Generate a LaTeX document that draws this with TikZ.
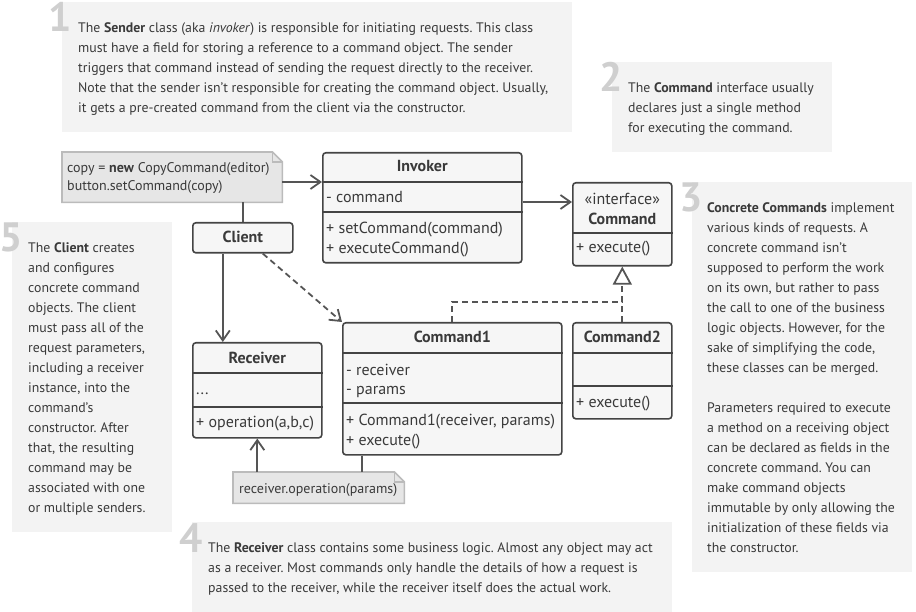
\documentclass[tikz,border=0pt]{standalone}
\usepackage{fontspec}
\setmainfont{PT Sans}
\usetikzlibrary{arrows.meta}
\definecolor{ink}{HTML}{3A3A3A}
\definecolor{numgray}{HTML}{CFCFCF}
\definecolor{notefill}{HTML}{F3F3F3}
\definecolor{umlfill}{HTML}{F6F6F6}
\definecolor{umlborder}{HTML}{444444}
\definecolor{codefill}{HTML}{E6E6E6}
\definecolor{codeborder}{HTML}{BBBBBB}
\definecolor{linkgray}{HTML}{555555}
\frenchspacing
\begin{document}
\begin{tikzpicture}[x=1pt,y=-1pt,
    notebox/.style={fill=notefill, inner sep=0pt, anchor=north west},
    notenum/.style={text=numgray, font=\fontsize{41}{41}\selectfont\bfseries, anchor=base east, inner sep=0pt},
    notetext/.style={text=ink, font=\fontsize{13.8}{20}\selectfont, align=left, anchor=north west, inner sep=0pt},
    umlbox/.style={draw=umlborder, fill=umlfill, line width=1.6pt, rounded corners=3pt, inner sep=0pt, anchor=north west},
    umlline/.style={draw=umlborder, line width=1.6pt},
    umlhead/.style={text=ink, font=\fontsize{16}{20}\selectfont\bfseries, anchor=base, inner sep=0pt},
    umltag/.style={text=ink, font=\fontsize{16}{20}\selectfont, anchor=base, inner sep=0pt},
    umlitem/.style={text=ink, font=\fontsize{16}{20}\selectfont, anchor=base west, inner sep=0pt},
    codebox/.style={inner sep=0pt, anchor=north west},
    codeline/.style={draw=codeborder, fill=codefill, line width=1.6pt},
    codetext/.style={text=ink, font=\fontsize{14}{17}\selectfont, anchor=base west, inner sep=0pt},
    link/.style={draw=linkgray, line width=1.8pt},
    assoc/.style={link, -{Straight Barb[length=10pt,width=14pt]}},
    depend/.style={assoc, dash pattern=on 6pt off 4pt},
    realize/.style={link, dash pattern=on 6pt off 4pt, -{Triangle[open,length=18pt,width=19pt,fill=white]}}]
  \useasboundingbox (0,0) rectangle (916,612);

  \node[notebox, minimum width=510pt, minimum height=130pt] (note1) at (62,2) {};
  \node[notebox, minimum width=220pt, minimum height=90pt] (note2) at (612,62) {};
  \node[notebox, minimum width=220pt, minimum height=390pt] (note3) at (692,182) {};
  \node[notebox, minimum width=480pt, minimum height=90pt] (note4) at (192,522) {};
  \node[notebox, minimum width=160pt, minimum height=310pt] (note5) at (12,222) {};

  \node[notenum] (num1) at (72,32) {1};
  \node[notenum] (num2) at (623,92) {2};
  \node[notenum] (num3) at (703,212) {3};
  \node[notenum] (num4) at (203,552) {4};
  \node[notenum] (num5) at (23,252) {5};

  \node[notetext] (text1) at (78,18) {\strut The \textbf{Sender} class (aka \textit{invoker}) is responsible for initiating requests. This class\\
    must have a field for storing a reference to a command object. The sender\\
    triggers that command instead of sending the request directly to the receiver.\\
    Note that the sender isn’t responsible for creating the command object. Usually,\\
    it gets a pre-created command from the client via the constructor.};
  \node[notetext] (text2) at (628,78) {\strut The \textbf{Command} interface usually\\
    declares just a single method\\
    for executing the command.};
  \node[notetext] (text3) at (707,198) {\strut\textbf{Concrete Commands} implement\\
    various kinds of requests. A\\
    concrete command isn’t\\
    supposed to perform the work\\
    on its own, but rather to pass\\
    the call to one of the business\\
    logic objects. However, for the\\
    sake of simplifying the code,\\
    these classes can be merged.\\[20pt]
    Parameters required to execute\\
    a method on a receiving object\\
    can be declared as fields in the\\
    concrete command. You can\\
    make command objects\\
    immutable by only allowing the\\
    initialization of these fields via\\
    the constructor.};
  \node[notetext] (text4) at (208,538) {\strut The \textbf{Receiver} class contains some business logic. Almost any object may act\\
    as a receiver. Most commands only handle the details of how a request is\\
    passed to the receiver, while the receiver itself does the actual work.};
  \node[notetext] (text5) at (28,238) {\strut The \textbf{Client} creates\\
    and configures\\
    concrete command\\
    objects. The client\\
    must pass all of the\\
    request parameters,\\
    including a receiver\\
    instance, into the\\
    command’s\\
    constructor. After\\
    that, the resulting\\
    command may be\\
    associated with one\\
    or multiple senders.};

  \node[codebox, minimum width=220pt, minimum height=50pt] (clientcode) at (62,152) {};
  \draw[codeline] (clientcode.north west) -- ([xshift=-10pt]clientcode.north east) -- ([yshift=-10pt]clientcode.north east) -- (clientcode.south east) -- (clientcode.south west) -- cycle;
  \draw[codeline, fill=none] ([xshift=-10pt]clientcode.north east) |- ([yshift=-10pt]clientcode.north east);
  \node[codetext] at (67,173) {copy = \textbf{new} CopyCommand(editor)};
  \node[codetext] at (67,191) {button.setCommand(copy)};

  \node[codebox, minimum width=171pt, minimum height=31pt] (recvcode) at (233,472) {};
  \draw[codeline] (recvcode.north west) -- ([xshift=-10pt]recvcode.north east) -- ([yshift=-10pt]recvcode.north east) -- (recvcode.south east) -- (recvcode.south west) -- cycle;
  \draw[codeline, fill=none] ([xshift=-10pt]recvcode.north east) |- ([yshift=-10pt]recvcode.north east);
  \node[codetext] at (239,493) {receiver.operation(params)};

  \node[umlbox, minimum width=199pt, minimum height=110pt] (invoker) at (322,152) {};
  \draw[umlline] (invoker.west |- 0,182) -- (invoker.east |- 0,182);
  \draw[umlline] (invoker.west |- 0,212) -- (invoker.east |- 0,212);
  \node[umlhead] at (invoker.center |- 0,172) {Invoker};
  \node[umlitem] at (326,203) {- command};
  \node[umlitem] at (326,234) {+ setCommand(command)};
  \node[umlitem] at (326,254) {+ executeCommand()};

  \node[umlbox, minimum width=99pt, minimum height=83pt] (command) at (572,182) {};
  \draw[umlline] (command.west |- 0,233) -- (command.east |- 0,233);
  \node[umltag] at (command.center |- 0,205) {«interface»};
  \node[umlhead] at (command.center |- 0,225) {Command};
  \node[umlitem] at (576,253) {+ execute()};

  \node[umlbox, minimum width=100pt, minimum height=30pt] (client) at (192,222) {};
  \node[umlhead] at (client.center |- 0,243) {Client};

  \node[umlbox, minimum width=129pt, minimum height=95pt] (receiver) at (192,342) {};
  \draw[umlline] (receiver.west |- 0,373) -- (receiver.east |- 0,373);
  \draw[umlline] (receiver.west |- 0,407) -- (receiver.east |- 0,407);
  \node[umlhead] at (receiver.center |- 0,363) {Receiver};
  \node[umlitem] at (196,395) {...};
  \node[umlitem] at (196,428) {+ operation(a,b,c)};

  \node[umlbox, minimum width=219pt, minimum height=132pt] (command1) at (342,322) {};
  \draw[umlline] (command1.west |- 0,353) -- (command1.east |- 0,353);
  \draw[umlline] (command1.west |- 0,403) -- (command1.east |- 0,403);
  \node[umlhead] at (command1.center |- 0,343) {Command1};
  \node[umlitem] at (346,375) {- receiver};
  \node[umlitem] at (346,395) {- params};
  \node[umlitem] at (346,425) {+ Command1(receiver, params)};
  \node[umlitem] at (346,445) {+ execute()};

  \node[umlbox, minimum width=99pt, minimum height=96pt] (command2) at (572,322) {};
  \draw[umlline] (command2.west |- 0,353) -- (command2.east |- 0,353);
  \draw[umlline] (command2.west |- 0,386) -- (command2.east |- 0,386);
  \node[umlhead] at (command2.center |- 0,343) {Command2};
  \node[umlitem] at (576,407) {+ execute()};

  \draw[assoc] (clientcode.east |- 0,182) -- (invoker.west |- 0,182);
  \draw[link] (client.north) -- (client.north |- clientcode.south);
  \draw[assoc] ([xshift=-20pt]client.south) -- ([xshift=-20pt]client.south |- receiver.north);
  \draw[depend] ([xshift=20pt]client.south) -- (command1.north west);
  \draw[assoc] (invoker.east |- 0,202) -- (command.west |- 0,202);
  \draw[realize] (command1.north) -- ++(0,-20) -| (command.south);
  \draw[link, dash pattern=on 6pt off 4pt] (command2.north) -- (command2.north |- 0,302);
  \draw[link] ([xshift=20pt]command1.south west) -- ([xshift=20pt]command1.south west |- recvcode.north);
  \draw[assoc] (recvcode.north -| receiver.south) -- (receiver.south);
\end{tikzpicture}
\end{document}
